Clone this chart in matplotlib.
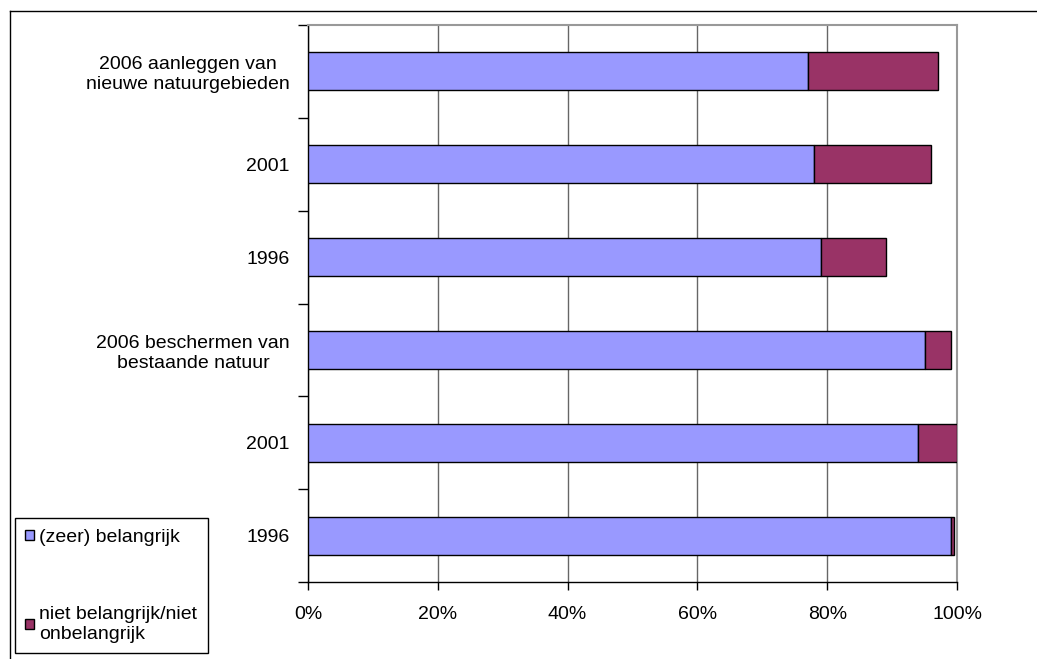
import matplotlib.pyplot as plt
import matplotlib.ticker as mticker
from matplotlib.patches import Patch
from matplotlib.lines import Line2D

plt.rcParams['font.family'] = ['Liberation Sans', 'DejaVu Sans']

categories = ['2006 aanleggen van\nnieuwe natuurgebieden', '2001', '1996',
              '2006 beschermen van\nbestaande natuur', '2001', '1996']
belangrijk = [77, 78, 79, 95, 94, 99]
niet_belangrijk = [20, 18, 10, 4, 6, 0.6]
series_names = ['(zeer) belangrijk', 'niet belangrijk/niet\nonbelangrijk']
blue = '#9999FF'
red = '#993366'

W, H = 1037, 659
fig = plt.figure(figsize=(W / 100, H / 100), dpi=100)
ax = fig.add_axes([308 / W, 1 - 582 / H, (957 - 308) / W, (582 - 25) / H])

y = list(range(len(categories)))
ax.barh(y, belangrijk, height=0.41, color=blue, edgecolor='black', linewidth=1, zorder=3)
ax.barh(y, niet_belangrijk, left=belangrijk, height=0.41, color=red,
        edgecolor='black', linewidth=1, zorder=3)

ax.set_xlim(0, 100)
ax.set_ylim(len(categories) - 0.5, -0.5)
ax.xaxis.set_major_locator(mticker.MultipleLocator(20))
ax.xaxis.set_major_formatter(mticker.FuncFormatter(lambda v, p: f'{v:.0f}%'))
ax.tick_params(axis='x', direction='out', length=6, width=1, pad=11, labelsize=14)

ax.set_yticks(y)
ax.set_yticklabels(categories, multialignment='center')
ax.set_yticks([i - 0.5 for i in range(len(categories) + 1)], minor=True)
ax.tick_params(axis='y', which='major', length=0, pad=13, labelsize=14)
ax.tick_params(axis='y', which='minor', direction='out', length=7, width=1)

ax.grid(axis='x', color='#666666', linewidth=1, zorder=0)
for side in ['top', 'right']:
    ax.spines[side].set_color('#999999')
    ax.spines[side].set_linewidth(1.5)
for side in ['left', 'bottom']:
    ax.spines[side].set_color('black')
    ax.spines[side].set_linewidth(1)

# outer chart border (cut off at right and bottom)
fig.add_artist(Line2D([10 / W, 1], [1 - 11 / H, 1 - 11 / H], color='black', linewidth=1))
fig.add_artist(Line2D([10 / W, 10 / W], [0, 1 - 11 / H], color='black', linewidth=1))

handles = [Patch(facecolor=blue, edgecolor='black'), Patch(facecolor=red, edgecolor='black')]
leg = fig.legend(handles, series_names, loc='upper left',
                 bbox_to_anchor=(14.5 / W, 1 - 518 / H), fontsize=14,
                 handlelength=0.45, handleheight=0.45, handletextpad=0.25,
                 labelspacing=3.1, borderpad=0.55, borderaxespad=0,
                 fancybox=False, framealpha=1, edgecolor='black')
leg.get_frame().set_linewidth(1)

fig.savefig('out.png', dpi=100)
